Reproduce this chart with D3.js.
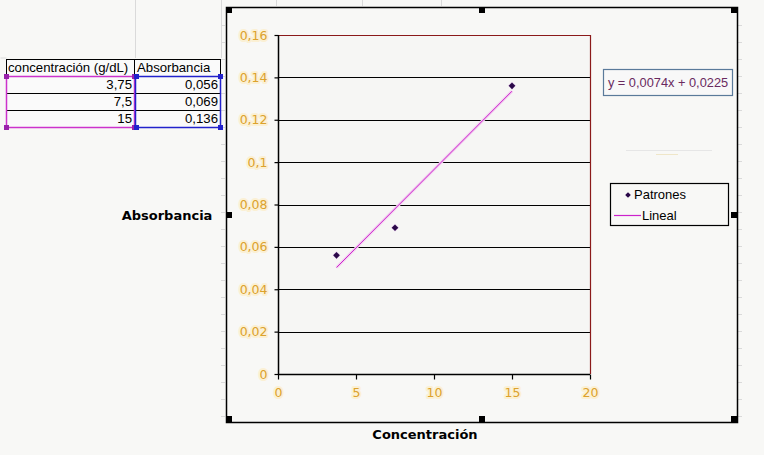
<!DOCTYPE html>
<html><head><meta charset="utf-8">
<script src="https://cdn.jsdelivr.net/npm/d3@7"></script>
<style>
html,body{margin:0;padding:0;background:#f8f8f6;}
svg{display:block;}
</style></head>
<body>
<script>
const concentracion = [3.75, 7.5, 15];
const absorbancia = [0.056, 0.069, 0.136];
const xTicks = [0, 5, 10, 15, 20];
const yTicks = [0, 0.02, 0.04, 0.06, 0.08, 0.1, 0.12, 0.14, 0.16];
const pendiente = 0.0074;
const intercepto = 0.0225;
const seriesName = "Patrones";
const trendName = "Lineal";
const colHeaders = ["concentración (g/dL)", "Absorbancia"];

const W = 764, H = 455;
const loc = d3.formatLocale({decimal: ",", thousands: ".", grouping: [3], currency: ["", ""]});
const fmt = loc.format(".4~f");
const fmtY = loc.format(".2~f");

const svg = d3.select("body").append("svg").attr("width", W).attr("height", H);
svg.append("rect").attr("width", W).attr("height", H).attr("fill", "#f8f8f6");

// faint spreadsheet gridlines
const gl = svg.append("g").attr("stroke", "#dadada").attr("stroke-width", 1);
[[135,0,135,58],[221,0,221,58],[276,0,276,6],[362,0,362,6],[441,0,441,6],[0,58,6,58]].forEach(l=>{
  gl.append("line").attr("x1",l[0]+0.5).attr("y1",l[1]).attr("x2",l[2]+0.5).attr("y2",l[3]);
});
for (let y = 25; y < 420; y += 17) {
  gl.append("line").attr("x1", 221).attr("x2", 225).attr("y1", y + 0.5).attr("y2", y + 0.5);
  gl.append("line").attr("x1", 738).attr("x2", 742).attr("y1", y + 0.5).attr("y2", y + 0.5);
}

// spreadsheet table
const tx0 = 6, tx1 = 134, tx2 = 220;
const rowY = [59, 76, 93, 110, 127];
const tg = svg.append("g");
tg.append("rect").attr("x", tx0 + 0.5).attr("y", rowY[0] + 0.5).attr("width", tx2 - tx0).attr("height", rowY[4] - rowY[0]).attr("fill", "#fafafa").attr("stroke", "#000");
rowY.slice(1, 4).forEach(y => tg.append("line").attr("x1", tx0).attr("x2", tx2).attr("y1", y + 0.5).attr("y2", y + 0.5).attr("stroke", "#000"));
tg.append("line").attr("x1", tx1 + 0.5).attr("x2", tx1 + 0.5).attr("y1", rowY[0]).attr("y2", rowY[4]).attr("stroke", "#000");
// selection outlines
tg.append("rect").attr("x", tx0 + 0.5).attr("y", rowY[1] + 0.5).attr("width", tx1 - tx0).attr("height", rowY[4] - rowY[1]).attr("fill", "none").attr("stroke", "#cc33cc").attr("stroke-width", 1.5);
tg.append("rect").attr("x", tx1 + 1.5).attr("y", rowY[1] + 0.5).attr("width", tx2 - tx1 - 1).attr("height", rowY[4] - rowY[1]).attr("fill", "none").attr("stroke", "#2222cc").attr("stroke-width", 1.5);
[[tx0, rowY[1], "#9922aa"], [tx0, rowY[4], "#9922aa"], [tx1, rowY[1], "#9922aa"], [tx1, rowY[4], "#9922aa"],
 [tx1 + 2, rowY[1], "#2222cc"], [tx1 + 2, rowY[4], "#2222cc"], [tx2, rowY[1], "#2222cc"], [tx2, rowY[4], "#2222cc"]].forEach(h => {
  tg.append("rect").attr("x", h[0] - 2).attr("y", h[1] - 2).attr("width", 5).attr("height", 5).attr("fill", h[2]);
});
const tfont = "'Liberation Sans', Arial, sans-serif";
const tsize = 13.2;
tg.append("text").attr("x", tx0 + 2).attr("y", rowY[0] + 13).text(colHeaders[0]).attr("font-family", tfont).attr("font-size", tsize).attr("fill", "#000");
tg.append("text").attr("x", tx1 + 3).attr("y", rowY[0] + 13).text(colHeaders[1]).attr("font-family", tfont).attr("font-size", tsize).attr("fill", "#000");
concentracion.forEach((c, i) => {
  tg.append("text").attr("x", tx1 - 2).attr("y", rowY[i + 1] + 13).attr("text-anchor", "end").text(fmt(c)).attr("font-family", tfont).attr("font-size", tsize).attr("fill", "#000");
  tg.append("text").attr("x", tx2 - 2).attr("y", rowY[i + 1] + 13).attr("text-anchor", "end").text(fmt(absorbancia[i])).attr("font-family", tfont).attr("font-size", tsize).attr("fill", "#000");
});

// chart area frame
const cL = 226, cT = 7, cR = 737, cB = 422;
svg.append("rect").attr("x", cL + 0.5).attr("y", cT + 0.5).attr("width", cR - cL).attr("height", cB - cT).attr("fill", "#f8f8f6").attr("stroke", "#000").attr("stroke-width", 1.5);

// plot area
const pL = 278, pR = 590, pT = 35, pB = 374;
const x = d3.scaleLinear().domain([xTicks[0], xTicks[xTicks.length - 1]]).range([pL, pR]);
const y = d3.scaleLinear().domain([yTicks[0], yTicks[yTicks.length - 1]]).range([pB, pT]);

const plot = svg.append("g");
plot.append("rect").attr("x", pL).attr("y", pT).attr("width", pR - pL).attr("height", pB - pT).attr("fill", "#f6f6f4");
// gridlines
plot.selectAll("line.grid").data(yTicks.slice(1, -1)).enter().append("line")
  .attr("x1", pL).attr("x2", pR).attr("y1", d => Math.round(y(d)) + 0.5).attr("y2", d => Math.round(y(d)) + 0.5)
  .attr("stroke", "#000").attr("stroke-width", 1.2);
// red top & right border
plot.append("path").attr("d", `M${pL},${pT + 0.5}H${pR + 0.5}V${pB}`).attr("fill", "none").attr("stroke", "#8b1a1a").attr("stroke-width", 1.2);

const tickFont = "'Comic Sans MS','DejaVu Sans',sans-serif";
const yAxis = d3.axisLeft(y).tickValues(yTicks).tickSize(4).tickPadding(7).tickFormat(fmtY);
const gy = svg.append("g").attr("transform", `translate(${pL + 0.5},0)`).call(yAxis);
const xAxis = d3.axisBottom(x).tickValues(xTicks).tickSize(5).tickPadding(9).tickFormat(d => fmt(d));
const gx = svg.append("g").attr("transform", `translate(0,${pB + 0.5})`).call(xAxis);
[gx, gy].forEach(g => {
  g.select(".domain").attr("stroke", "#000").attr("stroke-width", 1.5);
  g.selectAll(".tick line").attr("stroke", "#000").attr("stroke-width", 1.2);
  g.selectAll(".tick text").attr("fill", "#dca22c").attr("font-family", tickFont).attr("font-size", 12.5)
    .attr("stroke", "#fbf0d4").attr("stroke-width", 4).attr("paint-order", "stroke").attr("stroke-linejoin", "round");
});
gx.select(".domain").attr("d", `M${pL},0H${pR}`);
gy.select(".domain").attr("d", `M0,${pT}V${pB}`);

// trendline
const xs = d3.extent(concentracion);
plot.append("line")
  .attr("x1", x(xs[0])).attr("y1", y(pendiente * xs[0] + intercepto))
  .attr("x2", x(xs[1])).attr("y2", y(pendiente * xs[1] + intercepto))
  .attr("stroke", "#f2d0f0").attr("stroke-width", 3);
plot.append("line")
  .attr("x1", x(xs[0])).attr("y1", y(pendiente * xs[0] + intercepto))
  .attr("x2", x(xs[1])).attr("y2", y(pendiente * xs[1] + intercepto))
  .attr("stroke", "#cc22cc").attr("stroke-width", 1);

// points (square rotated 45° = Excel diamond)
const diamond = d3.symbol().type(d3.symbolSquare).size(22);
plot.selectAll("path.pt").data(concentracion).enter().append("path")
  .attr("d", diamond).attr("transform", (d, i) => `translate(${x(d)},${y(absorbancia[i])}) rotate(45)`)
  .attr("fill", "#2a0848").attr("stroke", "#ead0f0").attr("stroke-width", 1).attr("paint-order", "stroke");

// equation box
const eq = svg.append("g");
eq.append("rect").attr("x", 603.5).attr("y", 69.5).attr("width", 129).attr("height", 26).attr("fill", "#f8f8f8").attr("stroke", "#5a7a9a").attr("stroke-width", 1.2);
eq.append("text").attr("x", 668).attr("y", 87).attr("text-anchor", "middle")
  .text(`y = ${fmt(pendiente)}x + ${fmt(intercepto)}`)
  .attr("font-family", tfont).attr("font-size", 12.8).attr("fill", "#6a2a60");

// faint artifact
svg.append("line").attr("x1", 626).attr("x2", 712).attr("y1", 150.5).attr("y2", 150.5).attr("stroke", "#e6e6e6");
svg.append("line").attr("x1", 656).attr("x2", 678).attr("y1", 154.5).attr("y2", 154.5).attr("stroke", "#efe6c8");

// legend
const lg = svg.append("g");
lg.append("rect").attr("x", 610.5).attr("y", 183.5).attr("width", 118).attr("height", 42).attr("fill", "#f8f8f6").attr("stroke", "#000").attr("stroke-width", 1.2);
lg.append("path").attr("d", d3.symbol().type(d3.symbolSquare).size(16)).attr("transform", "translate(628,195) rotate(45)").attr("fill", "#2a0848");
lg.append("text").attr("x", 634).attr("y", 199).text(seriesName).attr("font-family", tfont).attr("font-size", 13).attr("fill", "#000");
lg.append("line").attr("x1", 614).attr("x2", 641).attr("y1", 215.5).attr("y2", 215.5).attr("stroke", "#cc22cc").attr("stroke-width", 1.2);
lg.append("text").attr("x", 642).attr("y", 220).text(trendName).attr("font-family", tfont).attr("font-size", 13).attr("fill", "#000");

// axis titles
const titleFont = "'Comic Sans MS','DejaVu Sans',sans-serif";
svg.append("text").attr("x", 167).attr("y", 220).attr("text-anchor", "middle").text("Absorbancia")
  .attr("font-family", titleFont).attr("font-weight", "bold").attr("font-size", 13).attr("fill", "#000");
svg.append("text").attr("x", 425).attr("y", 439).attr("text-anchor", "middle").text("Concentración")
  .attr("font-family", titleFont).attr("font-weight", "bold").attr("font-size", 13).attr("fill", "#000");

// selection handles
[[229, 10], [482, 10], [734, 10], [229, 215], [734, 215], [229, 419], [482, 419], [734, 419]].forEach(h => {
  svg.append("rect").attr("x", h[0] - 3).attr("y", h[1] - 3).attr("width", 6).attr("height", 6).attr("fill", "#000");
});
</script>
</body></html>
